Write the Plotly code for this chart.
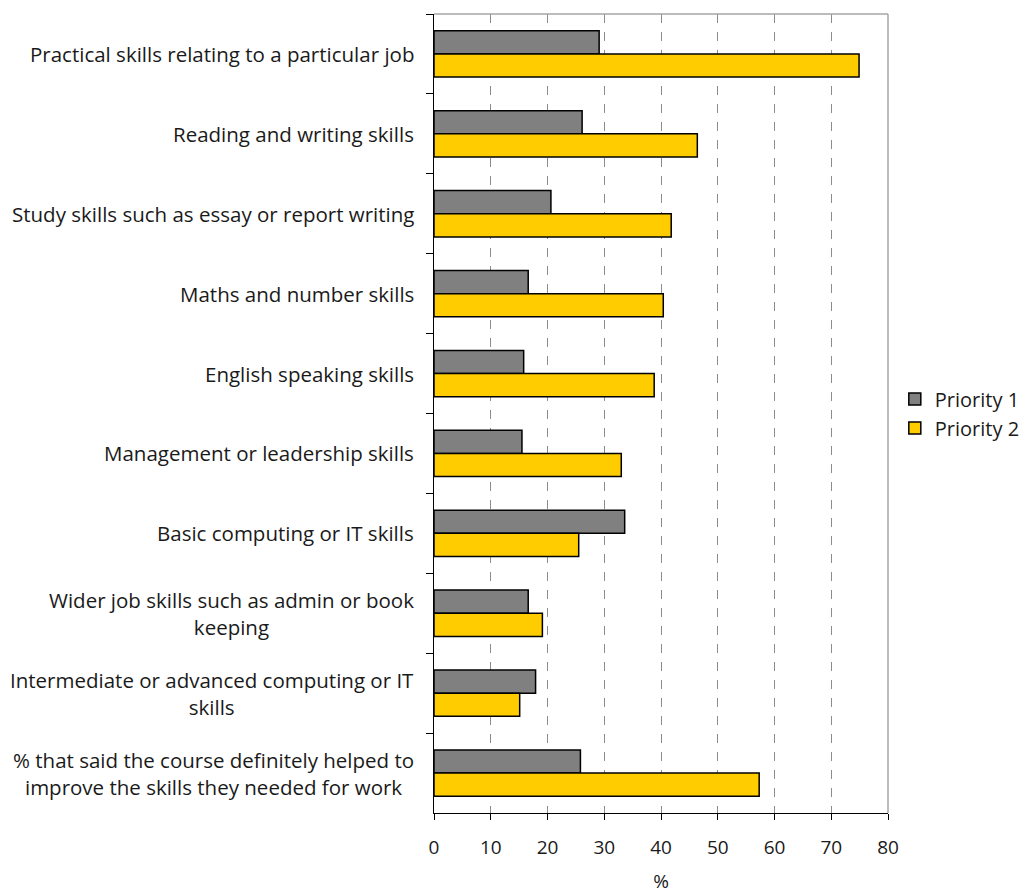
import plotly.graph_objects as go

categories = [
    "Practical skills relating to a particular job",
    "Reading and writing skills",
    "Study skills such as essay or report writing",
    "Maths and number skills",
    "English speaking skills",
    "Management or leadership skills",
    "Basic computing or IT skills",
    "Wider job skills such as admin or book<br>keeping",
    "Intermediate or advanced computing or IT<br>skills",
    "% that said the course definitely helped to<br>improve the skills they needed for work",
]
priority_1 = [29.1, 26.1, 20.6, 16.6, 15.8, 15.5, 33.6, 16.6, 17.9, 25.8]
priority_2 = [74.9, 46.4, 41.8, 40.4, 38.8, 33.0, 25.5, 19.1, 15.1, 57.3]
x_ticks = [0, 10, 20, 30, 40, 50, 60, 70, 80]

FONT = "Open Sans, sans-serif"
TEXT = "#1a1a1a"
SIZE = 20

fig = go.Figure()
fig.add_trace(go.Bar(
    name="Priority 1", y=categories, x=priority_1, orientation="h",
    marker=dict(color="#808080", line=dict(color="#000000", width=1.5)),
))
fig.add_trace(go.Bar(
    name="Priority 2", y=categories, x=priority_2, orientation="h",
    marker=dict(color="#FFCC00", line=dict(color="#000000", width=1.5)),
))

# Category labels: right-aligned block, lines centred within it
for cat in categories:
    fig.add_annotation(
        x=0, xref="paper", xshift=-18, xanchor="right",
        y=cat, yref="y", yanchor="middle",
        text=cat, showarrow=False, align="center",
        font=dict(family=FONT, size=20.5, color=TEXT),
    )

fig.update_layout(
    width=1021, height=894,
    margin=dict(l=434, r=133, t=14, b=81, autoexpand=False),
    paper_bgcolor="white", plot_bgcolor="white",
    barmode="group", bargap=0.42, bargroupgap=0,
    font=dict(family=FONT, size=SIZE, color=TEXT),
    legend=dict(
        x=1.015, xanchor="left", y=0.5, yanchor="middle",
        font=dict(family=FONT, size=SIZE, color=TEXT),
        itemwidth=30, tracegroupgap=2,
    ),
    xaxis=dict(
        range=[0, 80], tickvals=x_ticks, ticktext=[str(v) for v in x_ticks],
        tickfont=dict(family=FONT, size=SIZE - 1, color=TEXT),
        showgrid=True, gridcolor="#8c8c8c", griddash="dash", gridwidth=1,
        showline=True, linecolor="#000000", linewidth=1.2,
        ticks="outside", ticklen=6, tickcolor="#000000",
        ticklabelstandoff=11,
        mirror=False, zeroline=False,
        title=dict(text="%", standoff=25, font=dict(family=FONT, size=SIZE - 1, color=TEXT)),
    ),
    yaxis=dict(
        autorange="reversed", showticklabels=False,
        showline=True, linecolor="#000000", linewidth=1.2,
        ticks="outside", ticklen=7, tickcolor="#000000",
        tickson="boundaries", showgrid=False,
    ),
)

# Light grey frame along the top and right edges of the plot area
fig.add_shape(type="line", xref="paper", yref="paper", x0=0, x1=1, y0=1, y1=1,
              line=dict(color="#a6a6a6", width=1.5))
fig.add_shape(type="line", xref="paper", yref="paper", x0=1, x1=1, y0=0, y1=1,
              line=dict(color="#a6a6a6", width=1.5))

fig.write_html("out.html")
